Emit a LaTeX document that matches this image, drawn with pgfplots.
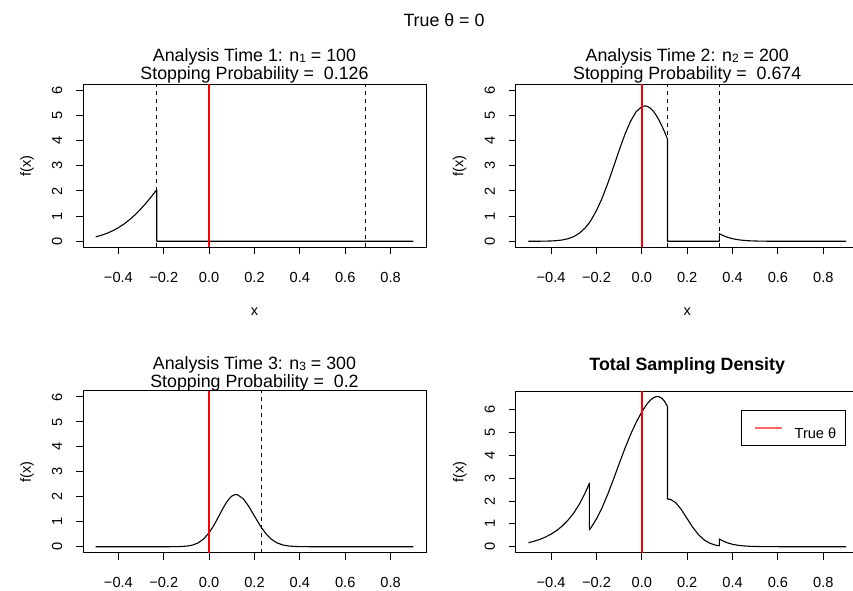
\documentclass[border=0pt]{standalone}
\usepackage{fontspec}
\setmainfont{Liberation Sans}
\usepackage{pgfplots}
\pgfplotsset{compat=1.18}
\newcommand{\tickfont}{\fontsize{14.6pt}{17pt}\selectfont}
\newcommand{\titlefont}{\fontsize{17.8pt}{18.2pt}\selectfont}
\newcommand{\sub}[1]{\raisebox{-1.6pt}{\fontsize{12pt}{13pt}\selectfont #1}}
\pgfplotsset{rstyle/.style={
  scale only axis, width=343pt,
  xmin=-0.556, xmax=0.956,
  axis line style={line width=1pt},
  tick style={line width=1pt, black},
  tick align=outside, major tick length=7pt,
  xtick pos=bottom, ytick pos=left,
  xtick={-0.4,-0.2,0,0.2,0.4,0.6,0.8},
  xticklabels={−0.4,−0.2,0.0,0.2,0.4,0.6,0.8},
  ytick={0,1,2,3,4,5,6},
  yticklabels={0,1,2,3,4,5,6},
  ticklabel style={font=\tickfont},
  xticklabel style={anchor=base, yshift=-28pt},
  yticklabel style={xshift=-13.8pt, rotate=90, anchor=base},
  ylabel={f(x)},
  label style={font=\tickfont},
  ylabel style={at={(axis description cs:-0.1522,0.5)}, anchor=base},
  xlabel style={at={(axis description cs:0.5,0)}, anchor=base, yshift=-68.5pt},
  every axis plot/.append style={line join=round},
  truetheta/.style={draw=red, line width=1.5pt},
}}
\begin{document}
\begin{tikzpicture}
% ---------- Panel 1 ----------
\begin{axis}[rstyle, at={(83pt,342.7pt)}, anchor=south west, height=163pt,
  ymin=-0.24, ymax=6.24, xlabel={x}]
\addplot[black, line width=1.1pt] coordinates {
(-0.5,0.1753) (-0.475,0.2378) (-0.45,0.3174) (-0.425,0.4173) (-0.4,0.5399)
(-0.375,0.6879) (-0.35,0.8630) (-0.325,1.0656) (-0.3,1.2952) (-0.275,1.5503)
(-0.25,1.8263) (-0.231,2.0477) (-0.231,0) (0.9,0)};
\addplot[black, line width=1pt, dash pattern=on 4pt off 4pt] coordinates {(-0.231,-0.24) (-0.231,6.24)};
\addplot[black, line width=1pt, dash pattern=on 4pt off 4pt] coordinates {(0.688,-0.24) (0.688,6.24)};
\addplot[truetheta] coordinates {(0,-0.24) (0,6.24)};
\end{axis}
% ---------- Panel 2 ----------
\begin{axis}[rstyle, at={(515.7pt,342.7pt)}, anchor=south west, height=163pt,
  ymin=-0.24, ymax=6.24, xlabel={x}]
\addplot[black, line width=1.1pt] coordinates {
(-0.5,0.0003) (-0.475,0.0008) (-0.45,0.0022) (-0.425,0.0052) (-0.4,0.0120)
(-0.375,0.0259) (-0.35,0.0528) (-0.325,0.1018) (-0.3,0.1860) (-0.275,0.3219)
(-0.25,0.5280) (-0.231,0.7431) (-0.225,0.8227) (-0.2,1.2180) (-0.175,1.7162)
(-0.15,2.3037) (-0.125,2.9521) (-0.1,3.6158) (-0.075,4.2406) (-0.05,4.7685)
(-0.025,5.1513) (0,5.3531) (0.015,5.3805) (0.025,5.3597) (0.0375,5.2902)
(0.05,5.1758) (0.0625,5.0203) (0.075,4.8271) (0.0875,4.6026) (0.1,4.3517)
(0.113,4.0696) (0.113,0) (0.342,0) (0.342,0.3008) (0.35,0.2617) (0.375,0.1654)
(0.4,0.1012) (0.425,0.0598) (0.45,0.0341) (0.475,0.0187) (0.5,0.0099)
(0.55,0.0025) (0.6,0.0005) (0.65,0.0001) (0.7,0) (0.9,0)};
\addplot[black, line width=1pt, dash pattern=on 4pt off 4pt] coordinates {(0.113,-0.24) (0.113,6.24)};
\addplot[black, line width=1pt, dash pattern=on 4pt off 4pt] coordinates {(0.342,-0.24) (0.342,6.24)};
\addplot[truetheta] coordinates {(0,-0.24) (0,6.24)};
\end{axis}
% ---------- Panel 3 ----------
\begin{axis}[rstyle, at={(83pt,37.3pt)}, anchor=south west, height=161.7pt,
  ymin=-0.24, ymax=6.24]
\addplot[black, line width=1.1pt] coordinates {
(-0.5,0) (-0.2,0) (-0.175,0.0006) (-0.15,0.0024) (-0.125,0.0080) (-0.1,0.0236)
(-0.075,0.0622) (-0.05,0.1458) (-0.025,0.3036) (0,0.5619) (0.015,0.7682)
(0.025,0.9242) (0.0375,1.1341) (0.05,1.3511) (0.0625,1.5630) (0.075,1.7555)
(0.0875,1.9144) (0.1,2.0271) (0.113,2.0851) (0.118,2.09) (0.125,2.0819)
(0.15,1.9269) (0.175,1.6149) (0.2,1.2257) (0.225,0.8424) (0.25,0.5243)
(0.275,0.2955) (0.3,0.1508) (0.325,0.0697) (0.35,0.0292) (0.375,0.0111)
(0.4,0.0038) (0.425,0.0012) (0.45,0.0003) (0.5,0) (0.9,0)};
\addplot[black, line width=1pt, dash pattern=on 4pt off 4pt] coordinates {(0.229,-0.24) (0.229,6.24)};
\addplot[truetheta] coordinates {(0,-0.24) (0,6.24)};
\end{axis}
% ---------- Panel 4 ----------
\begin{axis}[rstyle, at={(515.7pt,37.3pt)}, anchor=south west, height=161.7pt,
  ymin=-0.263, ymax=6.83,
  legend style={at={(0.962,0.8825)}, anchor=north east, draw=black, line width=0.8pt,
    inner xsep=0pt, inner ysep=0pt, font=\tickfont, nodes={inner sep=0pt}},
  legend image code/.code={\draw[#1] (14pt,6.3pt) -- (40.7pt,6.3pt); \path[draw=none, fill=none] (0pt,-11.2pt) rectangle (53.4pt,23.8pt);}]
\addplot[black, line width=1.1pt, forget plot] coordinates {
(-0.5,0.1756) (-0.475,0.2386) (-0.45,0.3196) (-0.425,0.4225) (-0.4,0.5519)
(-0.375,0.7138) (-0.35,0.9158) (-0.325,1.1674) (-0.3,1.4812) (-0.275,1.8722)
(-0.25,2.3543) (-0.231,2.7908) (-0.231,0.7431) (-0.225,0.8227) (-0.2,1.2180)
(-0.175,1.7162) (-0.15,2.3061) (-0.125,2.9601) (-0.1,3.6394) (-0.075,4.3028)
(-0.05,4.9143) (-0.025,5.4549) (0,5.9150) (0.015,6.1487) (0.025,6.2839)
(0.0375,6.4243) (0.05,6.5269) (0.0625,6.5833) (0.075,6.5826) (0.0875,6.5170)
(0.1,6.3788) (0.113,6.1547) (0.113,2.0851) (0.125,2.0819) (0.15,1.9269)
(0.175,1.6149) (0.2,1.2257) (0.225,0.8424) (0.25,0.5243) (0.275,0.2955)
(0.3,0.1508) (0.325,0.0697) (0.342,0.0390) (0.342,0.3398) (0.35,0.2909)
(0.375,0.1765) (0.4,0.1050) (0.425,0.0610) (0.45,0.0344) (0.475,0.0187)
(0.5,0.0099) (0.55,0.0025) (0.6,0.0005) (0.65,0.0001) (0.7,0) (0.9,0)};
\addplot[truetheta, forget plot] coordinates {(0,-0.263) (0,6.83)};
\addlegendimage{red!60, line width=2pt}
\addlegendentry{True θ\rule{9pt}{0pt}}
\end{axis}
% ---------- Titles ----------
\node[font=\titlefont, anchor=base, inner sep=0pt] at (444pt,563pt) {True θ = 0};
\node[font=\titlefont, anchor=north, align=center, inner sep=0pt] at (254.5pt,541.8pt)
  {Analysis Time 1: n\sub{1} = 100\\Stopping Probability = \ 0.126};
\node[font=\titlefont, anchor=north, align=center, inner sep=0pt] at (687.2pt,541.8pt)
  {Analysis Time 2: n\sub{2} = 200\\Stopping Probability = \ 0.674};
\node[font=\titlefont, anchor=north, align=center, inner sep=0pt] at (254.5pt,234pt)
  {Analysis Time 3: n\sub{3} = 300\\Stopping Probability = \ 0.2};
\node[font=\titlefont\bfseries, anchor=base, inner sep=0pt] at (687.2pt,220pt) {Total Sampling Density};
\pgfresetboundingbox
\path[use as bounding box] (0pt,0pt) rectangle (853pt,590pt);
\end{tikzpicture}
\end{document}
